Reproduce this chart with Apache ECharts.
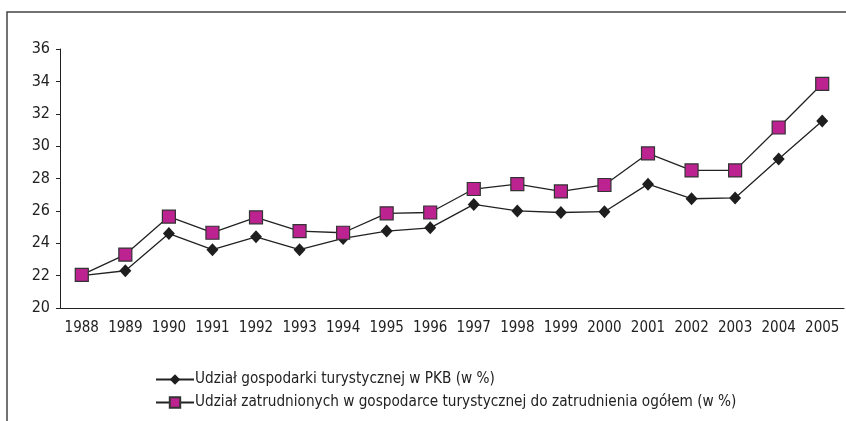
<!DOCTYPE html>
<html><head><meta charset="utf-8">
<script src="https://cdn.jsdelivr.net/npm/echarts@6/dist/echarts.min.js"></script>
<style>html,body{margin:0;padding:0;background:#fff}#c{width:846px;height:421px}</style>
</head><body><div id="c"></div>
<script>
const years = ['1988','1989','1990','1991','1992','1993','1994','1995','1996','1997','1998','1999','2000','2001','2002','2003','2004','2005'];
const pkbShare = [22.0,22.3,24.6,23.6,24.4,23.6,24.3,24.75,24.95,26.4,26.0,25.9,25.95,27.65,26.75,26.8,29.2,31.55];
const employmentShare = [22.05,23.3,25.65,24.65,25.6,24.75,24.65,25.85,25.9,27.35,27.65,27.2,27.6,29.55,28.5,28.5,31.15,33.85];
const seriesNames = ['Udział gospodarki turystycznej w PKB (w %)','Udział zatrudnionych w gospodarce turystycznej do zatrudnienia ogółem (w %)'];

const FONT = '"DejaVu Sans Condensed","Liberation Sans Narrow",sans-serif';
const chart = echarts.init(document.getElementById('c'), null, {renderer:'canvas'});
chart.setOption({
  animation:false,
  backgroundColor:'#fff',
  textStyle:{fontFamily:FONT},
  graphic:[
    {type:'polyline', shape:{points:[[7,421],[7,12],[846,12]]}, style:{stroke:'#444',lineWidth:1.5,fill:null}}
  ],
  grid:{left:60,right:2,top:49,bottom:113},
  legend:{
    orient:'vertical', left:150, top:367, itemGap:8, itemWidth:38, itemHeight:13,
    textStyle:{fontFamily:FONT,fontSize:15.2,color:'#222',padding:[0,0,0,-4]},
    data:seriesNames
  },
  xAxis:{
    type:'category', data:years, boundaryGap:true,
    axisLine:{lineStyle:{color:'#222',width:1}},
    axisTick:{length:5,interval:0,lineStyle:{color:'#222'}},
    axisLabel:{fontFamily:FONT,fontSize:15,color:'#222',margin:13,interval:0}
  },
  yAxis:{
    type:'value', min:20, max:36, interval:2,
    splitLine:{show:false},
    axisLine:{show:true,lineStyle:{color:'#222',width:1}},
    axisTick:{show:true,length:4,inside:false,lineStyle:{color:'#222'}},
    axisLabel:{fontFamily:FONT,fontSize:16,color:'#222',margin:10}
  },
  series:[
    {name:seriesNames[0],type:'line',data:pkbShare,symbol:'diamond',symbolSize:[12,13],
     lineStyle:{color:'#222',width:1.3},itemStyle:{color:'#1e1e1e',borderColor:'#1e1e1e',borderWidth:0}},
    {name:seriesNames[1],type:'line',data:employmentShare,symbol:'rect',symbolSize:13,
     lineStyle:{color:'#222',width:1.3},itemStyle:{color:'#bc2390',borderColor:'#333',borderWidth:1.2}}
  ]
});
</script></body></html>
